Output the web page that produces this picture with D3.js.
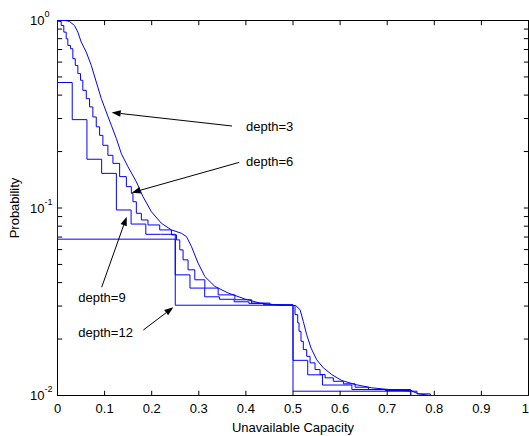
<!DOCTYPE html>
<html>
<head>
<meta charset="utf-8">
<script src="https://cdn.jsdelivr.net/npm/d3@7"></script>
<style>
  html, body { margin: 0; padding: 0; background: #fff; overflow: hidden; }
  text { font-family: "Liberation Sans", Arial, Helvetica, sans-serif; fill: #000; }
</style>
</head>
<body>
<svg id="chart" width="529" height="436"></svg>
<script>
// ---- axis ticks ----
const xTicks = [0, 0.1, 0.2, 0.3, 0.4, 0.5, 0.6, 0.7, 0.8, 0.9, 1];
const xTickLabels = ["0", "0.1", "0.2", "0.3", "0.4", "0.5", "0.6", "0.7", "0.8", "0.9", "1"];
const yMajorTicks = [1, 0.1, 0.01];
const yMajorExponents = ["0", "-1", "-2"];
const yMinorTicks = [0.02, 0.03, 0.04, 0.05, 0.06, 0.07, 0.08, 0.09,
                     0.2, 0.3, 0.4, 0.5, 0.6, 0.7, 0.8, 0.9];

// ---- exceedance probability curves: [unavailable capacity, probability] ----
const depth3 = [
  [0, 1], [0.017, 1], [0.0255, 0.988], [0.036, 0.941], [0.0432, 0.867], [0.0504, 0.767],
  [0.0611, 0.678], [0.0717, 0.576], [0.0823, 0.470], [0.093, 0.383], [0.1036, 0.325],
  [0.1143, 0.276], [0.1249, 0.235], [0.1355, 0.195], [0.1496, 0.166], [0.1674, 0.138],
  [0.1815, 0.115], [0.1994, 0.0955], [0.2206, 0.0829], [0.2419, 0.0764], [0.2632, 0.0733],
  [0.2738, 0.0704], [0.2845, 0.0622], [0.2985, 0.0508], [0.3128, 0.0431], [0.334, 0.0382],
  [0.3623, 0.0352], [0.3979, 0.0327], [0.4298, 0.0311], [0.4617, 0.0305], [0.5, 0.0302],
  [0.5057, 0.0302], [0.5149, 0.0287], [0.5219, 0.0248], [0.5291, 0.0211], [0.5383, 0.0179],
  [0.5504, 0.0155], [0.5645, 0.01404], [0.5823, 0.01293], [0.6036, 0.01202], [0.6319, 0.01144],
  [0.6674, 0.01099], [0.71, 0.01072], [0.7526, 0.01054], [0.7666, 0.01021], [0.7915, 0.0100],
  [1, 0.0100]
];

const depth6 = [
  [0, 1], [0.0021, 0.988], [0.0079, 0.941], [0.0134, 0.867], [0.0185, 0.799], [0.0219, 0.736],
  [0.0277, 0.707], [0.0326, 0.626], [0.0377, 0.576], [0.0432, 0.521], [0.0489, 0.480],
  [0.0538, 0.424], [0.0611, 0.383], [0.0681, 0.346], [0.0751, 0.306], [0.0823, 0.271],
  [0.0894, 0.244], [0.0964, 0.216], [0.107, 0.191], [0.1177, 0.173], [0.1319, 0.147],
  [0.1462, 0.130], [0.1568, 0.1197], [0.1602, 0.108], [0.1674, 0.0937], [0.1781, 0.0863],
  [0.1921, 0.0812], [0.217, 0.0764], [0.2419, 0.0719], [0.2526, 0.0676], [0.2596, 0.0598],
  [0.2666, 0.0529], [0.2772, 0.0468], [0.2915, 0.0414], [0.3128, 0.0374], [0.3411, 0.0344],
  [0.3766, 0.0324], [0.4121, 0.0311], [0.451, 0.0305], [0.5, 0.0302], [0.5028, 0.0302],
  [0.5043, 0.0270], [0.51, 0.0244], [0.5128, 0.0220], [0.517, 0.01945], [0.5219, 0.01757],
  [0.5291, 0.01618], [0.5362, 0.01493], [0.5468, 0.01375], [0.5574, 0.01293], [0.5681, 0.01242],
  [0.5857, 0.01191], [0.607, 0.01154], [0.6319, 0.01107], [0.6602, 0.01076], [0.6957, 0.01063],
  [0.7526, 0.01054], [0.7632, 0.0102], [0.7915, 0.0100], [1, 0.0100]
];

const depth9 = [
  [0, 1], [0, 0.467], [0.03125, 0.296], [0.0625, 0.182], [0.09375, 0.153], [0.125, 0.0976],
  [0.15625, 0.0821], [0.1875, 0.0724], [0.21875, 0.0724], [0.25, 0.0440], [0.28125, 0.0374],
  [0.3125, 0.0336], [0.34375, 0.0326], [0.375, 0.0316], [0.40625, 0.0310], [0.4375, 0.0305],
  [0.46875, 0.0303], [0.5, 0.0154], [0.53125, 0.01289], [0.5625, 0.01137], [0.59375, 0.01137],
  [0.625, 0.01076], [0.75, 0.0100], [1, 0.0100]
];

const depth12 = [
  [0, 1], [0, 0.0682], [0.25, 0.0303], [0.5, 0.01054], [0.75, 0.0100], [1, 0.0100]
];

const seriesList = [depth12, depth9, depth6, depth3];
const seriesCurves = ["step", "step", "step", "linear"];

// ---- annotations: label anchor, arrow tail and arrow head in data units ----
const annotationLabels = ["depth=3", "depth=6", "depth=9", "depth=12"];
const annotationText = [[0.4002, 0.2575], [0.4002, 0.1675], [0.0442, 0.0316], [0.0442, 0.0206]];
const annotationTail = [[0.3705, 0.2737], [0.386, 0.1752], [0.0938, 0.0378], [0.1822, 0.02235]];
const annotationHead = [[0.115, 0.323], [0.1575, 0.1207], [0.1469, 0.0899], [0.2459, 0.02954]];

// ---- layout ----
const plotLeft = 57.5, plotRight = 528.5, plotTop = 20.5, plotBottom = 395.5;
const tickLen = 4.7;
const blue = "#0000ff";

const svg = d3.select("#chart");
const x = d3.scaleLinear().domain([0, 1]).range([plotLeft, plotRight]);
const y = d3.scaleLog().domain([0.01, 1]).range([plotBottom, plotTop]);

const axes = svg.append("g").attr("stroke", "#000").attr("stroke-width", 1).attr("fill", "none");

// frame
axes.append("rect")
  .attr("x", plotLeft).attr("y", plotTop)
  .attr("width", plotRight - plotLeft).attr("height", plotBottom - plotTop);

// x ticks, bottom and top, pointing inward
xTicks.forEach(t => {
  axes.append("line").attr("x1", x(t)).attr("x2", x(t)).attr("y1", plotBottom).attr("y2", plotBottom - tickLen);
  axes.append("line").attr("x1", x(t)).attr("x2", x(t)).attr("y1", plotTop).attr("y2", plotTop + tickLen);
});

// y ticks, left and right, major and minor
yMajorTicks.concat(yMinorTicks).forEach(t => {
  axes.append("line").attr("x1", plotLeft).attr("x2", plotLeft + tickLen).attr("y1", y(t)).attr("y2", y(t));
  axes.append("line").attr("x1", plotRight).attr("x2", plotRight - tickLen).attr("y1", y(t)).attr("y2", y(t));
});

// x tick labels; the last one hugs the right edge of the page
const lastTick = xTicks.length - 1;
svg.append("g").selectAll("text").data(xTicks).join("text")
  .attr("x", (d, i) => i === lastTick ? 529 : x(d)).attr("y", 412.5)
  .attr("text-anchor", (d, i) => i === lastTick ? "end" : "middle").attr("font-size", 13)
  .text((d, i) => xTickLabels[i]);

// y tick labels as powers of ten
yMajorTicks.forEach((t, i) => {
  const label = svg.append("text")
    .attr("x", 30).attr("y", y(t) + 4.7)
    .attr("font-size", 13);
  label.append("tspan").text("10");
  label.append("tspan").attr("dy", -8).attr("font-size", 9).text(yMajorExponents[i]);
});

// axis titles
svg.append("text")
  .attr("x", (plotLeft + plotRight) / 2).attr("y", 431.5)
  .attr("text-anchor", "middle").attr("font-size", 13)
  .text("Unavailable Capacity");

svg.append("text")
  .attr("transform", `translate(19,${(plotTop + plotBottom) / 2}) rotate(-90)`)
  .attr("text-anchor", "middle").attr("font-size", 13)
  .text("Probability");

// curves
const stepLine = d3.line().x(d => x(d[0])).y(d => y(d[1])).curve(d3.curveStepAfter);
const smoothLine = d3.line().x(d => x(d[0])).y(d => y(d[1])).curve(d3.curveLinear);

svg.append("g").selectAll("path").data(seriesList).join("path")
  .attr("d", (d, i) => (seriesCurves[i] === "step" ? stepLine : smoothLine)(d))
  .attr("fill", "none")
  .attr("stroke", blue)
  .attr("stroke-width", 1);

// annotations with arrows
const headLen = 9, headHalf = 3.3;
annotationLabels.forEach((lab, i) => {
  const tx = x(annotationTail[i][0]), ty = y(annotationTail[i][1]);
  const hx = x(annotationHead[i][0]), hy = y(annotationHead[i][1]);
  const dx = hx - tx, dy = hy - ty, len = Math.hypot(dx, dy);
  const ux = dx / len, uy = dy / len;
  const bx = hx - ux * headLen, by = hy - uy * headLen;
  svg.append("line")
    .attr("x1", tx).attr("y1", ty).attr("x2", bx).attr("y2", by)
    .attr("stroke", "#000").attr("stroke-width", 1);
  svg.append("path")
    .attr("d", `M${hx},${hy}L${bx - uy * headHalf},${by + ux * headHalf}L${bx + uy * headHalf},${by - ux * headHalf}Z`)
    .attr("fill", "#000");
  svg.append("text")
    .attr("x", x(annotationText[i][0])).attr("y", y(annotationText[i][1]))
    .attr("font-size", 13)
    .text(lab);
});
</script>
</body>
</html>
